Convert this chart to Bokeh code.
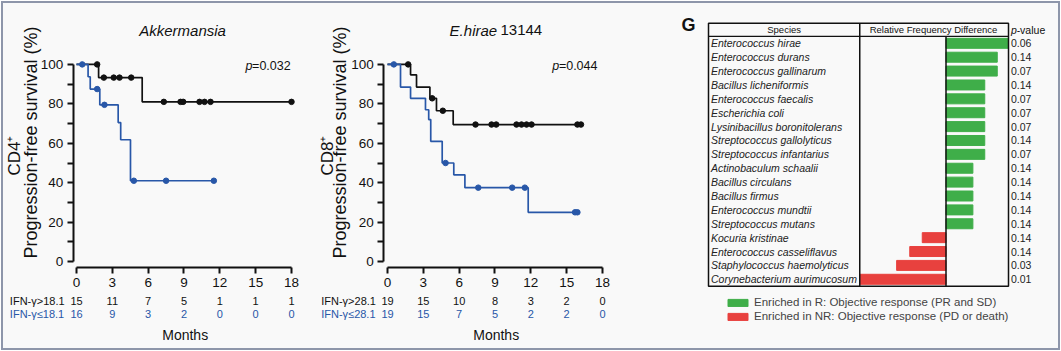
import math
from bokeh.plotting import figure
from bokeh.models import (Range1d, FixedTicker, Label, LabelSet, ColumnDataSource,
                          Legend, LegendItem)
from bokeh.layouts import row
from bokeh.embed import file_html
from bokeh.resources import INLINE
from bokeh.core.properties import value

FONT = "Liberation Sans"
BG = "#f9f9f9"
BLACK = "#111111"
BLUE = "#2857a8"
GREEN = "#3fae49"
RED = "#e8413e"

# ---------------- data ----------------
month_ticks = [0, 3, 6, 9, 12, 15, 18]
pfs_ticks = [0, 20, 40, 60, 80, 100]
pfs_minor = [10, 30, 50, 70, 90]

# Akkermansia panel (CD4+ IFN-gamma)
akk_hi_t = [0, 1.85, 5.5, 18.0]
akk_hi_s = [100, 93.3, 81.0, 81.0]
akk_hi_ct = [1.73, 2.29, 3.12, 3.6, 4.58, 7.31, 8.71, 8.93, 10.3, 10.72, 11.22, 18.0]
akk_hi_cs = [100, 93.3, 93.3, 93.3, 93.3, 81, 81, 81, 81, 81, 81, 81]
akk_lo_t = [0, 0.97, 1.15, 1.95, 3.49, 3.7, 4.52, 11.5]
akk_lo_s = [100, 93.75, 87.5, 79.5, 70.5, 61.8, 41.0, 41.0]
akk_lo_ct = [0.48, 1.73, 2.34, 4.8, 7.5, 11.5]
akk_lo_cs = [100, 87.5, 79.5, 41, 41, 41]
akk_risk_hi = ["15", "11", "7", "5", "1", "1", "1"]
akk_risk_lo = ["16", "9", "3", "2", "0", "0", "0"]

# E.hirae 13144 panel (CD8+ IFN-gamma)
hir_hi_t = [0, 1.93, 2.43, 3.55, 4.1, 5.5, 16.2]
hir_hi_s = [100, 94.7, 88.5, 82.8, 76.5, 69.5, 69.5]
hir_hi_ct = [1.73, 3.74, 4.63, 7.37, 8.71, 9.1, 10.8, 11.22, 11.64, 12.06, 15.9, 16.2]
hir_hi_cs = [100, 82.8, 76.5, 69.5, 69.5, 69.5, 69.5, 69.5, 69.5, 69.5, 69.5, 69.5]
hir_lo_t = [0, 1.09, 1.93, 3.18, 3.45, 3.62, 4.58, 5.55, 6.48, 11.78, 15.9]
hir_lo_s = [100, 88.5, 82.8, 77.0, 72.0, 61.0, 50.0, 44.0, 37.5, 25.0, 25.0]
hir_lo_ct = [0.53, 4.86, 7.6, 10.44, 11.5, 15.7, 15.9]
hir_lo_cs = [100, 50, 37.5, 37.5, 37.5, 25, 25]
hir_risk_hi = ["19", "15", "10", "8", "3", "2", "0"]
hir_risk_lo = ["19", "15", "7", "5", "2", "2", "0"]

# Panel G
species = ["Enterococcus hirae", "Enterococcus durans", "Enterococcus gallinarum",
           "Bacillus licheniformis", "Enterococcus faecalis", "Escherichia coli",
           "Lysinibacillus boronitolerans", "Streptococcus gallolyticus",
           "Streptococcus infantarius", "Actinobaculum schaalii", "Bacillus circulans",
           "Bacillus firmus", "Enterococcus mundtii", "Streptococcus mutans",
           "Kocuria kristinae", "Enterococcus casseliflavus",
           "Staphylococcus haemolyticus", "Corynebacterium aurimucosum"]
rel_freq_diff = [5.0, 4.1, 4.1, 3.1, 3.1, 3.1, 3.1, 3.1, 3.1, 2.15, 2.15, 2.15, 2.15, 2.15,
                 -1.9, -2.9, -3.95, -6.9]
p_values = ["0.06", "0.14", "0.07", "0.14", "0.07", "0.07", "0.07", "0.14", "0.07",
            "0.14", "0.14", "0.14", "0.14", "0.14", "0.14", "0.14", "0.03", "0.01"]

# ---------------- layout geometry (pixels) ----------------
FIG_H = 345
PX_MONTH = 11.944   # pixels per month
PX_PCT = 1.972      # pixels per percent
Y100_PX = 60.9      # pixel row of 100 % inside each KM figure


def lab(p, x, y, text, size, style="normal", align="left", color=BLACK, angle=0.0,
        baseline="middle"):
    p.add_layout(Label(x=x, y=y, text=text, text_font=FONT, text_font_size=size,
                       text_font_style=style, text_align=align, text_baseline=baseline,
                       text_color=color, angle=angle))


def km_fig(width, zero_px, yaxis_at):
    x0 = -zero_px / PX_MONTH
    x1 = (width - zero_px) / PX_MONTH
    y1 = 100 + Y100_PX / PX_PCT
    y0 = 100 - (FIG_H - Y100_PX) / PX_PCT
    p = figure(width=width, height=FIG_H, x_range=Range1d(x0, x1), y_range=Range1d(y0, y1),
               output_backend="svg", toolbar_location=None, min_border=0,
               background_fill_color=BG, border_fill_color=BG, outline_line_color=None)
    p.grid.visible = False
    for ax in (p.xaxis[0], p.yaxis[0]):
        ax.axis_line_width = 2
        ax.axis_line_color = BLACK
        ax.major_tick_line_width = 2
        ax.minor_tick_line_width = 2
        ax.major_tick_line_color = BLACK
        ax.minor_tick_line_color = BLACK
        ax.major_tick_in = 0
        ax.major_tick_out = 6
        ax.minor_tick_in = 0
        ax.minor_tick_out = 6
        ax.major_label_text_font = FONT
        ax.major_label_text_font_size = "13.5px"
        ax.major_label_text_color = BLACK
    p.xaxis.ticker = FixedTicker(ticks=month_ticks)
    p.xaxis.bounds = (0, 18)
    p.xaxis.major_label_standoff = 5
    p.xaxis.fixed_location = -2.9
    p.yaxis.ticker = FixedTicker(ticks=pfs_ticks, minor_ticks=pfs_minor)
    p.yaxis.bounds = (0, 100)
    p.yaxis.major_label_standoff = 4
    p.yaxis.fixed_location = yaxis_at
    return p


def km_curves(p, ht, hs, hct, hcs, lt, ls, lct, lcs):
    p.step(ht, hs, mode="after", line_width=1.7, line_color=BLACK)
    p.scatter(hct, hcs, size=5.5, color=BLACK)
    p.step(lt, ls, mode="after", line_width=1.7, line_color=BLUE)
    p.scatter(lct, lcs, size=5.5, color=BLUE)


def risk_table(p, hi, lo, lab_hi, lab_lo, label_x):
    src = ColumnDataSource(dict(x=month_ticks, hi=hi, lo=lo))
    for key, yv, col in (("hi", -20.2, BLACK), ("lo", -26.8, BLUE)):
        p.add_layout(LabelSet(x="x", y=yv, text=key, source=src, text_align="center",
                              text_baseline="middle", text_font=value(FONT),
                              text_font_size="11px", text_color=col))
    lab(p, label_x, -20.2, lab_hi, "11px", color=BLACK)
    lab(p, label_x, -26.8, lab_lo, "11px", color=BLUE)
    lab(p, 9.1, -37.0, "Months", "14px", align="center")


# ---------------- panel 1: Akkermansia ----------------
p1 = km_fig(315, 73, -0.27)
km_curves(p1, akk_hi_t, akk_hi_s, akk_hi_ct, akk_hi_cs,
          akk_lo_t, akk_lo_s, akk_lo_ct, akk_lo_cs)
risk_table(p1, akk_risk_hi, akk_risk_lo, "IFN-γ>18.1", "IFN-γ≤18.1", -5.58)
lab(p1, 8.88, 117.2, "Akkermansia", "15px", style="italic", align="center")
lab(p1, 14.15, 99.0, "p", "12.5px", style="italic")
lab(p1, 14.7, 99.0, "=0.032", "12.5px")
lab(p1, -3.8, 60.4, "Progression-free survival (%)", "18px", align="center",
    angle=math.pi / 2)
lab(p1, -5.15, 53.8, "CD4⁺", "17px", align="center", angle=math.pi / 2)

# ---------------- panel 2: E.hirae 13144 ----------------
p2 = km_fig(332, 69, -0.31)
km_curves(p2, hir_hi_t, hir_hi_s, hir_hi_ct, hir_hi_cs,
          hir_lo_t, hir_lo_s, hir_lo_ct, hir_lo_cs)
risk_table(p2, hir_risk_hi, hir_risk_lo, "IFN-γ>28.1", "IFN-γ≤28.1", -5.55)
lab(p2, 9.18, 117.2, "E.hirae", "15px", style="italic", align="right")
lab(p2, 9.46, 117.2, "13144", "15px")
lab(p2, 13.8, 99.0, "p", "12.5px", style="italic")
lab(p2, 14.35, 99.0, "=0.044", "12.5px")
lab(p2, -3.95, 60.4, "Progression-free survival (%)", "18px", align="center",
    angle=math.pi / 2)
lab(p2, -5.05, 53.8, "CD8⁺", "17px", align="center", angle=math.pi / 2)

# ---------------- panel 3: G ----------------
n = len(species)
idx = list(range(n))
PX_UNIT = 12.5      # pixels per unit of relative frequency difference
PX_ROW = 13.88      # pixels per species row
ZERO_PX = 295.5     # pixel column of zero inside panel 3
HEAD_TOP_PX = 19.7  # pixel row of table top inside panel 3
TABLE_LEFT, TABLE_RIGHT, SPECIES_EDGE, HEAD_TOP = -19.0, 5.0, -6.9, -1.45
W3 = 408
p3 = figure(width=W3, height=FIG_H,
            x_range=Range1d(-ZERO_PX / PX_UNIT, (W3 - ZERO_PX) / PX_UNIT),
            y_range=Range1d(HEAD_TOP + (FIG_H - HEAD_TOP_PX) / PX_ROW,
                            HEAD_TOP - HEAD_TOP_PX / PX_ROW),
            output_backend="svg", toolbar_location=None,
            x_axis_location=None, y_axis_location=None, min_border=0,
            background_fill_color=BG, border_fill_color=BG, outline_line_color=None)
p3.grid.visible = False

pos = [i for i in idx if rel_freq_diff[i] > 0]
neg = [i for i in idx if rel_freq_diff[i] < 0]
src_g = ColumnDataSource(dict(y=pos, v=[rel_freq_diff[i] for i in pos]))
src_r = ColumnDataSource(dict(y=neg, v=[rel_freq_diff[i] for i in neg]))
rg = p3.hbar(y="y", left=0, right="v", height=0.72, source=src_g,
             fill_color=GREEN, line_color=GREEN)
rr = p3.hbar(y="y", left=0, right="v", height=0.72, source=src_r,
             fill_color=RED, line_color=RED)

bottom = n - 0.5
p3.quad(left=[TABLE_LEFT], right=[TABLE_RIGHT], top=[HEAD_TOP], bottom=[bottom],
        fill_color=None, line_color=BLACK, line_width=1.5)
p3.segment(x0=[SPECIES_EDGE, TABLE_LEFT, 0], y0=[HEAD_TOP, -0.5, -0.5],
           x1=[SPECIES_EDGE, TABLE_RIGHT, 0], y1=[bottom, -0.5, bottom],
           line_color=BLACK, line_width=[1.5, 1.2, 1.5])

src_sp = ColumnDataSource(dict(y=idx, name=species, pv=p_values))
p3.text(x=TABLE_LEFT + 0.2, y="y", text="name", source=src_sp, text_font=value(FONT),
        text_font_style="italic", text_font_size="10.5px", text_baseline="middle",
        text_color="#222222")
p3.text(x=TABLE_RIGHT + 0.2, y="y", text="pv", source=src_sp, text_baseline="middle",
        text_font=value(FONT), text_font_size="10.5px", text_color="#222222")
head_y = (HEAD_TOP - 0.5) / 2
lab(p3, (TABLE_LEFT + SPECIES_EDGE) / 2, head_y, "Species", "9.5px", align="center")
lab(p3, -1.0, head_y, "Relative Frequency Difference", "9.5px", align="center")
lab(p3, TABLE_RIGHT + 0.2, head_y, "p", "10.5px", style="italic")
lab(p3, TABLE_RIGHT + 0.65, head_y, "-value", "10.5px")
lab(p3, -20.6, -1.3, "G", "18px", style="bold", align="center")

leg = Legend(items=[LegendItem(label="Enriched in R: Objective response (PR and SD)",
                               renderers=[rg]),
                    LegendItem(label="Enriched in NR: Objective response (PD or death)",
                               renderers=[rr])],
             location=(75, 26), border_line_color=None, background_fill_alpha=0,
             padding=0, margin=0, spacing=2, glyph_width=25, glyph_height=9,
             label_height=12, label_standoff=4, label_text_font=FONT,
             label_text_font_size="11.5px", label_text_baseline="middle")
p3.add_layout(leg)

layout = row(p1, p2, p3, styles={"border": "2px solid #8e96aa", "margin": "1px",
                                 "background-color": BG})

open("out.html", "w").write(file_html(layout, INLINE))
